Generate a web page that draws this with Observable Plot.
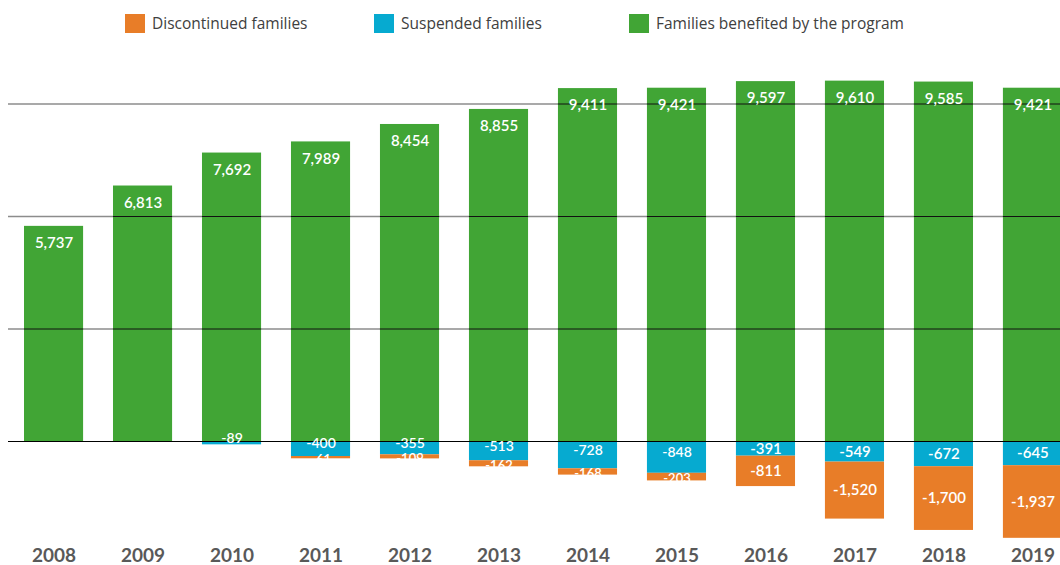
<!DOCTYPE html>
<html>
<head>
<meta charset="utf-8">
<script src="https://cdn.jsdelivr.net/npm/d3@7"></script>
<script src="https://cdn.jsdelivr.net/npm/@observablehq/plot@0.6"></script>
<style>
  html, body { margin: 0; padding: 0; background: #fff; }
  #legend { position: relative; height: 45px; width: 1060px; font-family: "Open Sans", Lato, sans-serif; font-size: 15.5px; color: #404040; }
  .item { position: absolute; top: 14px; display: flex; align-items: center; }
  .sw { width: 20px; height: 19px; margin-right: 7px; }
  .item span { line-height: 17px; }
</style>
</head>
<body>
<div id="legend"></div>
<div id="chart"></div>
<script>
const years = ["2008","2009","2010","2011","2012","2013","2014","2015","2016","2017","2018","2019"];
const benefited = [5737, 6813, 7692, 7989, 8454, 8855, 9411, 9421, 9597, 9610, 9585, 9421];
const suspended = [0, 0, -89, -400, -355, -513, -728, -848, -391, -549, -672, -645];
const discontinued = [0, 0, 0, -61, -109, -162, -168, -203, -811, -1520, -1700, -1937];
const seriesNames = ["Families benefited by the program", "Suspended families", "Discontinued families"];
const seriesColors = ["#41a535", "#06aad0", "#e87d28"];
const legendOrder = ["Discontinued families", "Suspended families", "Families benefited by the program"];
const gridLevels = [3000, 6000, 9000];

// legend (HTML above the SVG)
const legendLeft = [125, 374, 629];
const legend = document.getElementById("legend");
legendOrder.forEach((name, i) => {
  const it = document.createElement("div");
  it.className = "item";
  it.style.left = legendLeft[i] + "px";
  const sw = document.createElement("div");
  sw.className = "sw";
  sw.style.background = seriesColors[seriesNames.indexOf(name)];
  const tx = document.createElement("span");
  tx.textContent = name;
  it.appendChild(sw); it.appendChild(tx);
  legend.appendChild(it);
});

const fmt = d => (d < 0 ? "-" : "") + d3.format(",")(Math.abs(d));

const rows = [];
years.forEach((y, i) => {
  const small = Math.abs(discontinued[i]) < 300;
  rows.push({year: y, series: seriesNames[0], value: benefited[i], small, mid: benefited[i] / 2});
  rows.push({year: y, series: seriesNames[1], value: suspended[i], small, mid: suspended[i] / 2});
  rows.push({year: y, series: seriesNames[2], value: discontinued[i], small, mid: suspended[i] + discontinued[i] / 2});
});
const bars = rows.filter(d => d.value !== 0);
const negatives = bars.filter(d => d.value < 0);
const positives = bars.filter(d => d.value > 0);
const overTicks = [];
years.forEach((y, i) => gridLevels.forEach(l => { if (benefited[i] >= l) overTicks.push({year: y, level: l}); }));

const negText = (filter, dy, fontSize) => Plot.text(negatives.filter(filter), {
  x: "year", y: "mid", text: d => fmt(d.value),
  dy, fill: "#fff", fontSize, fontWeight: 600
});

const chart = Plot.plot({
  width: 1060,
  height: 520,
  marginLeft: 8,
  marginRight: 0,
  marginTop: 0,
  marginBottom: 20,
  x: {type: "band", domain: years, range: [24, 1062], paddingInner: 0.336, paddingOuter: 0, round: false, axis: null},
  y: {domain: [-3000, 10000], range: [508.5, 21], axis: null},
  color: {domain: seriesNames, range: seriesColors},
  style: {fontFamily: "Lato, 'Open Sans', sans-serif"},
  marks: [
    Plot.ruleY(gridLevels, {stroke: "#8c8c8c", strokeWidth: 1.5}),
    Plot.barY(bars, {x: "year", y: "value", z: "series", fill: "series", order: seriesNames}),
    Plot.tickY(overTicks, {x: "year", y: "level", stroke: "#111", strokeWidth: 1}),
    Plot.ruleY([0], {stroke: "#000", strokeWidth: 1.2}),
    Plot.text(positives, {x: "year", y: "value", text: d => fmt(d.value), dy: 17, fill: "#fff", fontSize: 15, fontWeight: 600}),
    negText(d => d.series === seriesNames[1] && d.small, -5, 14),
    negText(d => d.series === seriesNames[2] && d.small, 2, 13),
    negText(d => !d.small, 0, 15),
    Plot.text(years, {x: d => d, frameAnchor: "bottom", dy: 16, text: d => d, fill: "#595959", fontSize: 19, fontWeight: 700})
  ]
});
document.getElementById("chart").appendChild(chart);
</script>
</body>
</html>
